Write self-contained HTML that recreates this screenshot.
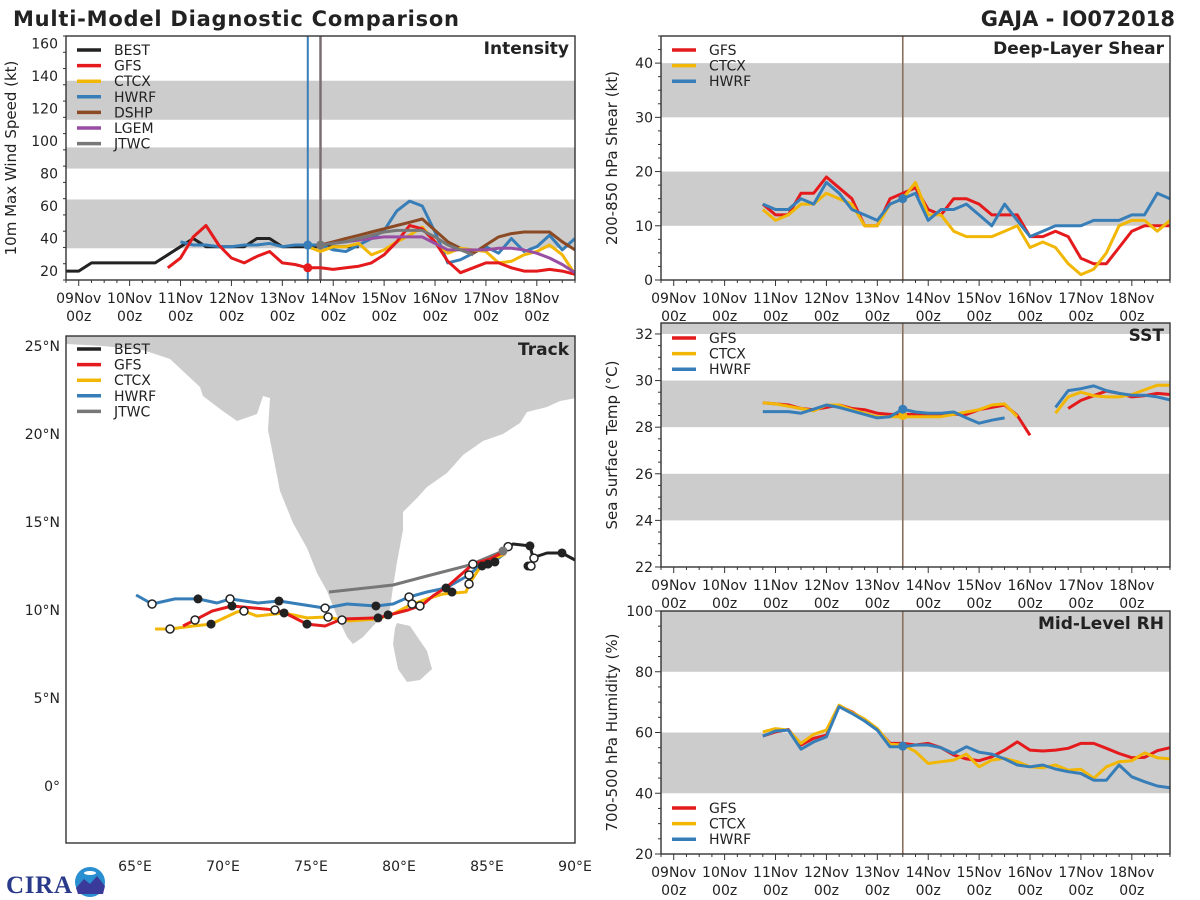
<!DOCTYPE html>
<html><head><meta charset="utf-8"><title>Multi-Model Diagnostic Comparison</title>
<style>
html,body{margin:0;padding:0;background:#fff;}
svg{display:block;font-family:"DejaVu Sans","Liberation Sans",sans-serif;}
</style></head>
<body>
<svg id="fig" width="1200" height="900" viewBox="0 0 1200 900" xmlns="http://www.w3.org/2000/svg">
<rect x="0" y="0" width="1200" height="900" fill="#fff"/>
<text x="13" y="26" font-size="21" font-weight="bold" fill="#222" textLength="446">Multi-Model Diagnostic Comparison</text>
<text x="1175" y="26" font-size="21" font-weight="bold" fill="#222" text-anchor="end">GAJA - IO072018</text>
<g id="layer"></g>
<g>
  <text x="6" y="893" font-size="25" font-weight="bold" fill="#2a3a8a" font-family="Liberation Serif, serif" textLength="66">CIRA</text>
  <circle cx="90" cy="882" r="15" fill="#2a8fd0"/>
  <path d="M76,888 L84,879 L90,884 L97,876 L105,886 L103,894 L78,894Z" fill="#3a3a9a"/>
  <ellipse cx="90" cy="873" rx="6" ry="2" fill="#fff"/>
</g>
</svg>
<script>
// ---------- DATA ----------
const dayLabels = ["09Nov","10Nov","11Nov","12Nov","13Nov","14Nov","15Nov","16Nov","17Nov","18Nov"];
const intTicks = [20,40,60,80,100,120,140,160];
const shearTicks = [0,10,20,30,40];
const sstTicks = [22,24,26,28,30,32];
const rhTicks = [20,40,60,80,100];
const intModels = ["BEST","GFS","CTCX","HWRF","DSHP","LGEM","JTWC"];
const nowDay = 4.5;   // 13Nov 12z
const jtwcDay = 4.75; // 13Nov 18z
// intensity series: start day + 6-hourly values (kt)
const bestStart = -0.25;
const bestInt = [20,20,25,25,25,25,25,25,30,35,40,35,35,35,35,40,40,35,35,35,35,35,35,35];
const gfsIntStart = 1.75;
const gfsInt = [22,28,41,48,36,28,25,29,32,25,24,22,22,21,22,23,25,30,38,48,46,38,26,19,22,25,25,22,20,20,21,20,18];
const ctcxIntStart = 4.5;
const ctcxInt = [35,32,35,35,37,30,33,38,42,47,38,31,34,33,32,25,26,30,32,36,30,18];
const hwrfIntStart = 2.0;
const hwrfInt = [38,36,36,35,35,36,36,37,35,36,36,36,33,32,36,40,45,57,63,60,44,25,27,31,35,31,40,32,35,42,33,40];
const dshpIntStart = 4.75;
const dshpInt = [36,38,40,42,44,46,48,50,52,45,38,34,31,36,41,43,44,44,44,38,33];
const lgemIntStart = 4.75;
const lgemInt = [36,37,38,39,40,41,41,41,41,37,33,33,33,33,34,34,33,31,28,24,19];
const jtwcIntStart = 4.75;
const jtwcInt = [36,37,38,40,42,44,45,45,45,41,36,33,30];
// shear (kt), start 1.75
const envStart = 1.75;
const gfsShear = [14,12,12,16,16,19,17,15,10,10,15,16,17,13,12,15,15,14,12,12,12,8,8,9,8,4,3,3,6,9,10,10,10];
const ctcxShear = [13,11,12,14,14,16,15,14,10,10,14,15,18,12,12,9,8,8,8,9,10,6,7,6,3,1,2,5,10,11,11,9,11];
const hwrfShear = [14,13,13,15,14,18,16,13,12,11,14,15,16,11,13,13,14,12,10,14,11,8,9,10,10,10,11,11,11,12,12,16,15];
// SST (degC) two segments each
const gfsSst1 = [29.05,29.0,28.95,28.8,28.75,28.85,28.95,28.8,28.75,28.6,28.55,28.55,28.55,28.55,28.55,28.55,28.55,28.75,28.85,28.95,28.5,27.65];
const gfsSst2Start = 7.75;
const gfsSst2 = [28.8,29.15,29.35,29.55,29.45,29.3,29.35,29.45,29.4];
const ctcxSst1 = [29.05,29.0,28.9,28.8,28.7,28.95,28.95,28.75,28.6,28.45,28.45,28.45,28.45,28.45,28.45,28.55,28.65,28.75,28.95,29.0,28.45];
const ctcxSst2Start = 7.5;
const ctcxSst2 = [28.6,29.3,29.5,29.35,29.3,29.3,29.4,29.6,29.8,29.8];
const hwrfSst1 = [28.67,28.67,28.67,28.6,28.77,28.95,28.85,28.7,28.55,28.4,28.45,28.77,28.65,28.6,28.6,28.65,28.4,28.17,28.3,28.4];
const hwrfSst2Start = 7.5;
const hwrfSst2 = [28.85,29.57,29.65,29.77,29.57,29.45,29.37,29.37,29.3,29.17];
// RH (%)
const gfsRh = [58.8,60.2,61,55.9,58.1,59.1,68.8,66.8,64.1,61.1,56.4,56.4,55.9,56.4,55,52.6,51.3,50.7,52,54.2,56.9,54.2,53.9,54.2,54.8,56.4,56.4,54.8,53.1,51.7,51.8,54,55];
const ctcxRh = [60.2,61.3,60.8,56.4,59.4,60.8,69.0,66.6,64.4,61.3,56.1,55.9,53.7,49.8,50.4,50.9,52.9,48.7,50.9,51.5,50.4,48.7,48.4,49.3,47.6,47.9,44.9,48.7,50.4,50.7,53.3,51.7,51.3];
const hwrfRh = [58.8,60.5,60.8,54.5,56.9,58.6,68.5,66.3,63.8,60.8,55.3,55.3,55.9,55.9,55,53.1,55.3,53.5,52.9,51.3,49.3,48.7,49.3,48,47.1,46.5,44.3,44.3,49.3,45.4,43.8,42.4,41.8];
// track (lon E, lat N)
const bestLon = [90.0,89.26,88.41,87.73,87.5,87.61,87.44,86.48,85.91];
const bestLat = [12.84,13.24,13.24,13.01,12.5,13.01,13.64,13.75,13.41];
const gfsLon = [67.73,68.41,69.38,70.51,72.95,73.52,74.77,75.8,76.76,78.81,80.51,81.31,81.93,82.73,84.2,85.17,86.14];
const gfsLat = [9.09,9.43,9.94,10.23,10.0,9.83,9.2,9.09,9.49,9.55,10.0,10.28,10.8,11.31,12.61,12.9,13.41];
const ctcxLon = [66.14,66.99,68.3,69.32,70.8,71.19,71.93,73.47,74.77,75.91,76.76,77.22,78.75,79.66,80.63,81.59,82.5,83.81,83.98,84.32,84.66,85.34,86.02];
const ctcxLat = [8.92,8.92,9.09,9.2,9.89,9.94,9.66,9.83,9.55,9.6,9.43,9.38,9.49,9.77,10.28,10.63,10.91,11.02,11.48,11.99,12.5,12.9,13.18];
const hwrfLon = [65.06,65.97,67.27,68.58,69.66,70.4,71.99,73.18,75.8,77.05,78.69,79.66,80.57,81.59,82.67,83.98,84.43,85.34,85.91,86.14];
const hwrfLat = [10.85,10.34,10.63,10.63,10.4,10.63,10.4,10.51,10.11,10.34,10.23,10.34,10.74,11.02,11.25,11.99,12.39,12.73,13.13,13.47];
const jtwcLon = [76.02,79.66,81.59,84.03,85.91];
const jtwcLat = [11.02,11.42,11.93,12.56,13.35];
const filledLon = [68.58,70.51,73.18,73.47,74.77,78.69,78.81,79.38,82.67,83.01,84.72,85.06,85.45,69.32,89.26,87.44,87.33];
const filledLat = [10.63,10.23,10.51,9.83,9.2,10.23,9.55,9.72,11.25,11.02,12.5,12.61,12.73,9.2,13.24,13.64,12.5];
const hollowLon = [65.97,68.41,66.99,70.4,71.19,72.95,75.8,75.97,76.76,80.57,80.74,81.19,83.98,83.98,84.2,87.5,87.67,86.2];
const hollowLat = [10.34,9.43,8.92,10.63,9.94,10.0,10.11,9.6,9.43,10.74,10.34,10.23,11.99,11.48,12.61,12.5,12.95,13.6];
const lonTicks = [65,70,75,80,85,90];
const latTicks = [0,5,10,15,20,25];

// ---------- DRAW ----------
const NS = "http://www.w3.org/2000/svg";
const layer = document.getElementById("layer");
function mk(tag, attrs, parent){ const e=document.createElementNS(NS,tag); for(const k in attrs) e.setAttribute(k,attrs[k]); (parent||layer).appendChild(e); return e; }
const C = {BEST:"#222222",GFS:"#e41a1c",CTCX:"#f2b705",HWRF:"#377eb8",DSHP:"#8b4a24",LGEM:"#984ea3",JTWC:"#777777"};
const DX = 50.9;

function panel(o){
  const g = mk("g",{});
  
  
  const X = t => o.x0 + (t+0.25)*DX;
  const Y = v => o.y1 - (v-o.vmin)/(o.vmax-o.vmin)*(o.y1-o.y0);
  mk("rect",{x:o.x0,y:o.y0,width:o.x1-o.x0,height:o.y1-o.y0,fill:"#fff"},g);
  const cp = "clip"+o.name;
  const cl = mk("clipPath",{id:cp},g); mk("rect",{x:o.x0,y:o.y0,width:o.x1-o.x0,height:o.y1-o.y0},cl);
  const inner = mk("g",{"clip-path":"url(#"+cp+")"},g);
  o.bands.forEach(b=>{ const r=mk("rect",{x:o.x0,y:Y(b[1]),width:o.x1-o.x0,height:Y(b[0])-Y(b[1]),fill:"#cccccc"},inner);
      });
  if(o.vlines) o.vlines.forEach(v=>{
    const l=mk("line",{x1:X(v[0]),x2:X(v[0]),y1:o.y0,y2:o.y1,stroke:v[1],"stroke-width":v[2]},inner);
     
  });
  o.series.forEach(s=>{
    const pts = s.vals.map((v,i)=>X(s.start+i*0.25).toFixed(1)+","+Y(v).toFixed(1)).join(" ");
    const pl = mk("polyline",{points:pts,fill:"none",stroke:C[s.model],"stroke-width":3,"stroke-linejoin":"round"},inner);
    
    
  });
  if(o.dots) o.dots.forEach(d=>{ mk("circle",{cx:X(d[1]),cy:Y(d[2]),r:4.5,fill:C[d[0]]},inner); });
  mk("rect",{x:o.x0,y:o.y0,width:o.x1-o.x0,height:o.y1-o.y0,fill:"none",stroke:"#333","stroke-width":1.4},g);
  for(let k=-1;k<=39;k++){ const t=k*0.25; const x=X(t); if(x<o.x0-0.5||x>o.x1+0.5) continue;
    const maj = k%4===0; mk("line",{x1:x,x2:x,y1:o.y1,y2:o.y1+(maj?6:3),stroke:"#333","stroke-width":1},g); }
  dayLabels.forEach((d,i)=>{
    const t1=mk("text",{x:X(i),y:o.y1+23,"font-size":14,"text-anchor":"middle",fill:"#222"},g); t1.textContent=d;
     
    const t2=mk("text",{x:X(i),y:o.y1+41,"font-size":14,"text-anchor":"middle",fill:"#222"},g); t2.textContent="00z";
     
  });
  for(let v=o.vmin; v<=o.vmax+1e-6; v+=o.minor){ const y=Y(v); if(y<o.y0-0.5) continue;
    const maj = Math.abs(Math.round(v/o.major)*o.major - v)<1e-6;
    mk("line",{x1:o.x0-(maj?6:3),x2:o.x0,y1:y,y2:y,stroke:"#333","stroke-width":1},g); }
  o.ticks.forEach(v=>{ const t=mk("text",{x:o.x0-8,y:Y(v)+5,"font-size":14,"text-anchor":"end",fill:"#222"},g); t.textContent=v;
      });
  const yc=(o.y0+o.y1)/2;
  const yt=mk("text",{x:o.ytx,y:yc,"font-size":15,"text-anchor":"middle",fill:"#222",transform:"rotate(-90 "+o.ytx+" "+yc+")"},g);
  yt.textContent=o.ytitle;  
  const pt=mk("text",{x:o.x1-6,y:o.y0+18,"font-size":17,"font-weight":"bold","text-anchor":"end",fill:"#222"},g);
  pt.textContent=o.title;  
  legend(g,o.legend,o.x0+11,o.legY,o.legDy);
}
function legend(g,models,x,y,dy){
  models.forEach((m,i)=>{
    const lg=mk("g",{},g);
    
    
    mk("line",{x1:x,x2:x+24,y1:y+i*dy,y2:y+i*dy,stroke:C[m],"stroke-width":3.5},lg);
    const t=mk("text",{x:x+37,y:y+i*dy+5,"font-size":14,fill:"#222"},lg); t.textContent=m;
  });
}

panel({name:"intensity-panel",short:"intensity",x0:66,x1:575,y0:36,y1:280,vmin:14.5,vmax:164.5,major:20,minor:10,
  ticks:intTicks,bands:[[34,64],[83,96],[113,137]],ytitle:"10m Max Wind Speed (kt)",ytx:16,title:"Intensity",
  vlines:[[nowDay,"#377eb8",2],[jtwcDay,"#7a6f70",2.5]],
  series:[{model:"BEST",start:bestStart,vals:bestInt},{model:"HWRF",start:hwrfIntStart,vals:hwrfInt},
    {model:"DSHP",start:dshpIntStart,vals:dshpInt},{model:"CTCX",start:ctcxIntStart,vals:ctcxInt},
    {model:"GFS",start:gfsIntStart,vals:gfsInt},{model:"LGEM",start:lgemIntStart,vals:lgemInt},
    {model:"JTWC",start:jtwcIntStart,vals:jtwcInt}],
  dots:[["HWRF",nowDay,36],["GFS",nowDay,22],["JTWC",jtwcDay,36]],
  legend:intModels,legY:50,legDy:15.6});
const rv=[[nowDay,"#8b6e5e",1.6]];
panel({name:"shear-panel",short:"shear",x0:661,x1:1170,y0:36,y1:280,vmin:0,vmax:45,major:10,minor:2.5,
  ticks:shearTicks,bands:[[10,20],[30,40]],ytitle:"200-850 hPa Shear (kt)",ytx:617,title:"Deep-Layer Shear",vlines:rv,
  series:[{model:"GFS",start:envStart,vals:gfsShear},{model:"CTCX",start:envStart,vals:ctcxShear},{model:"HWRF",start:envStart,vals:hwrfShear}],
  dots:[["HWRF",nowDay,15]],legend:["GFS","CTCX","HWRF"],legY:50,legDy:15.6});
panel({name:"sst-panel",short:"sst",x0:661,x1:1170,y0:323,y1:567,vmin:22,vmax:32.47,major:2,minor:0.5,
  ticks:sstTicks,bands:[[24,26],[28,30],[32,33]],ytitle:"Sea Surface Temp (°C)",ytx:617,title:"SST",vlines:rv,
  series:[{model:"GFS",start:envStart,vals:gfsSst1},{model:"GFS",start:gfsSst2Start,vals:gfsSst2},
    {model:"CTCX",start:envStart,vals:ctcxSst1},{model:"CTCX",start:ctcxSst2Start,vals:ctcxSst2},
    {model:"HWRF",start:envStart,vals:hwrfSst1},{model:"HWRF",start:hwrfSst2Start,vals:hwrfSst2}],
  dots:[["CTCX",nowDay,28.5],["HWRF",nowDay,28.77]],legend:["GFS","CTCX","HWRF"],legY:338,legDy:15.6});
panel({name:"rh-panel",short:"rh",x0:661,x1:1170,y0:611,y1:854,vmin:20,vmax:100,major:20,minor:5,
  ticks:rhTicks,bands:[[40,60],[80,100]],ytitle:"700-500 hPa Humidity (%)",ytx:617,title:"Mid-Level RH",vlines:rv,
  series:[{model:"GFS",start:envStart,vals:gfsRh},{model:"CTCX",start:envStart,vals:ctcxRh},{model:"HWRF",start:envStart,vals:hwrfRh}],
  dots:[["HWRF",nowDay,55.5]],legend:["GFS","CTCX","HWRF"],legY:808,legDy:15.6});

// ---------- TRACK MAP ----------
(function(){
  const x0=66,x1=575,y0=336,y1=843;
  const LX = lon => 575 - (90-lon)*17.6;
  const LY = lat => 786 - lat*17.6;
  const g = mk("g",{});
  
  
  const cl=mk("clipPath",{id:"trkclip"},g); mk("rect",{x:x0,y:y0,width:x1-x0,height:y1-y0},cl);
  const inner=mk("g",{"clip-path":"url(#trkclip)"},g);
  const india = mk("path",{fill:"#cccccc",d:"M60,330 L580,330 L576,398 L560,401 L547,407 L527,412 L520,423 L503,434 L483,441 L463,455 L447,473 L427,487 L417,498 L403,512 L403,530 L397,562 L393,587 L390,609 L380,619 L373,626 L363,637 L353,644 L347,637 L337,616 L327,591 L317,573 L307,548 L293,523 L280,491 L273,455 L268,430 L270,398 L263,396 L257,414 L237,421 L220,409 L203,396 L200,387 L170,359 L143,350 L103,346 L67,344 L60,344Z"},inner);
   
  const sl = mk("path",{fill:"#cccccc",d:"M397,623 L410,626 L427,651 L432,669 L420,680 L407,682 L398,669 L393,644 L395,628Z"},inner);
   
  const tracks=[["JTWC",jtwcLon,jtwcLat],["HWRF",hwrfLon,hwrfLat],["CTCX",ctcxLon,ctcxLat],["GFS",gfsLon,gfsLat],["BEST",bestLon,bestLat]];
  tracks.forEach(tr=>{
    const pts=tr[1].map((lon,i)=>LX(lon).toFixed(1)+","+LY(tr[2][i]).toFixed(1)).join(" ");
    const pl=mk("polyline",{points:pts,fill:"none",stroke:C[tr[0]],"stroke-width":3,"stroke-linejoin":"round"},inner);
    
    
  });
  filledLon.forEach((lon,i)=>{ const c=mk("circle",{cx:LX(lon),cy:LY(filledLat[i]),r:4.5,fill:"#222"},inner);
      });
  hollowLon.forEach((lon,i)=>{ const c=mk("circle",{cx:LX(lon),cy:LY(hollowLat[i]),r:4,fill:"#fff",stroke:"#222","stroke-width":1.5},inner);
      });
  mk("circle",{cx:LX(85.91),cy:LY(13.35),r:4.5,fill:"#777"},inner);
  mk("rect",{x:x0,y:y0,width:x1-x0,height:y1-y0,fill:"none",stroke:"#333","stroke-width":1.4},g);
  lonTicks.forEach(l=>{ const t=mk("text",{x:LX(l),y:871,"font-size":14,"text-anchor":"middle",fill:"#222"},g); t.textContent=l+"°E";
      });
  latTicks.forEach(l=>{ const t=mk("text",{x:60,y:LY(l)+5,"font-size":14,"text-anchor":"end",fill:"#222"},g); t.textContent=l===0?"0°":l+"°N";
      });
  const pt=mk("text",{x:569,y:355,"font-size":17,"font-weight":"bold","text-anchor":"end",fill:"#222"},g); pt.textContent="Track";
   
  legend(g,["BEST","GFS","CTCX","HWRF","JTWC"],77,349,15.6);
})();
</script>
</body></html>
